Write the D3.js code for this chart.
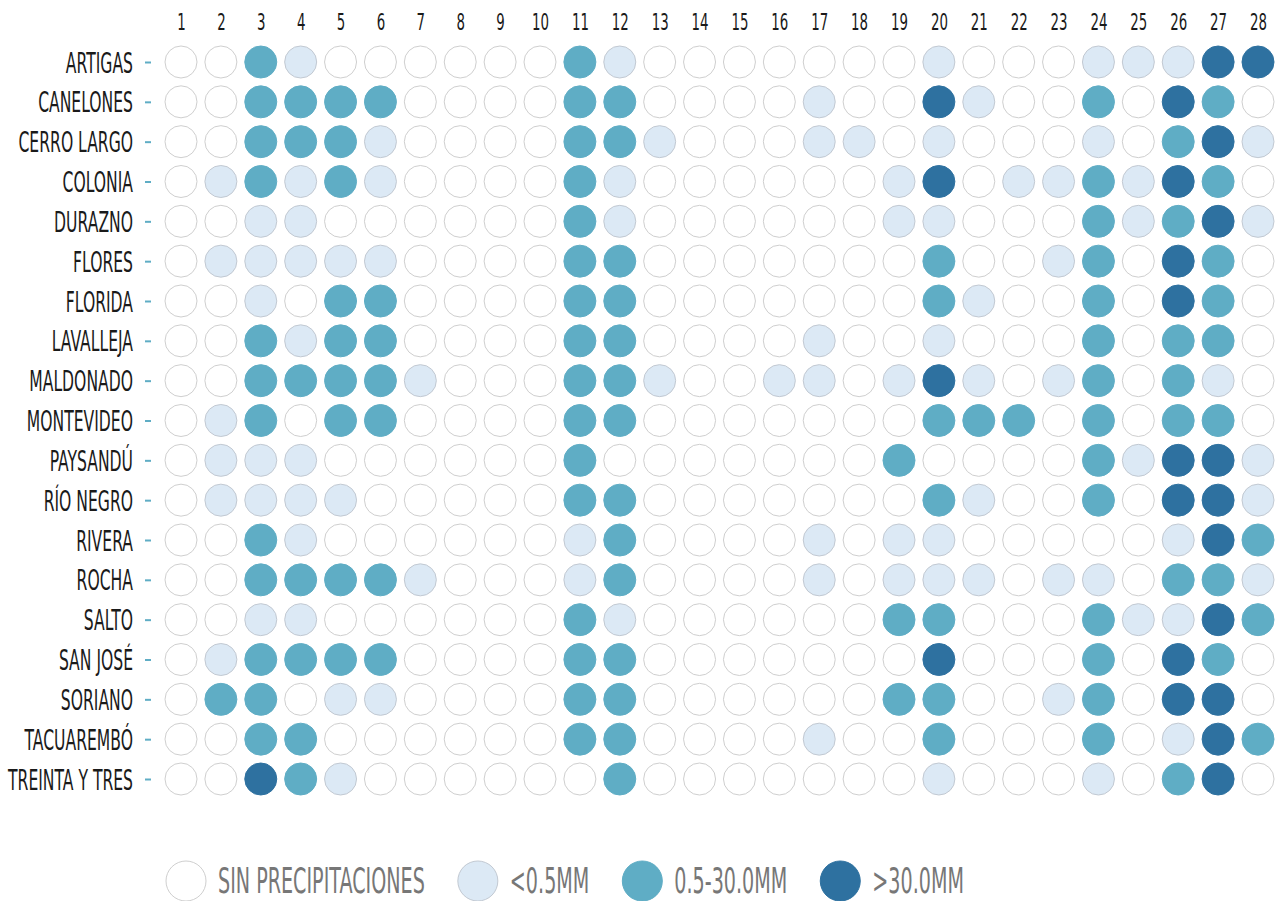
<!DOCTYPE html>
<html>
<head>
  <meta charset="utf-8">
  <script src="https://d3js.org/d3.v7.min.js"></script>
  <style>
    body { margin: 0; background: #fff; }
    text { font-family: "DejaVu Sans", sans-serif; }
  </style>
</head>
<body>
<script>
  // departments (rows) and days (columns)
  var depts = ["ARTIGAS", "CANELONES", "CERRO LARGO", "COLONIA", "DURAZNO", "FLORES",
               "FLORIDA", "LAVALLEJA", "MALDONADO", "MONTEVIDEO", "PAYSANDÚ", "RÍO NEGRO",
               "RIVERA", "ROCHA", "SALTO", "SAN JOSÉ", "SORIANO", "TACUAREMBÓ", "TREINTA Y TRES"];
  var days = d3.range(1, 29);

  // rain class per day: 0 none, 1 <0.5mm, 2 0.5-30mm, 3 >30mm
  var rain = [
    "0021000000210000000100011133",
    "0022220000220000100310020320",
    "0022210000221000110100010231",
    "0121210000210000001301121320",
    "0011000000210000001100021231",
    "0111110000220000000200120320",
    "0010220000220000000210020320",
    "0021220000220000100100020220",
    "0022221000221001101310120210",
    "0120220000220000000222020220",
    "0111000000200000002000021331",
    "0111100000220000000210020331",
    "0021000000120000101100000132",
    "0022221000120000101110110221",
    "0011000000210000002200021132",
    "0122220000220000000300020320",
    "0220110000220000002200120330",
    "0022000000220000100200020132",
    "0032100000020000000100010230"
  ];

  var legendLabels = ["SIN PRECIPITACIONES", "<0.5MM", "0.5-30.0MM", ">30.0MM"];
  var fills = ["#ffffff", "#dce9f5", "#5fadc5", "#2e71a0"];
  var strokes = ["#cfcfcf", "#c2c9d2", "#5fadc5", "#2e71a0"];

  var width = 1285, height = 901;
  var svg = d3.select("body").append("svg")
      .attr("width", width)
      .attr("height", height);

  // squeeze the fallback font to the narrow face of the original
  function squeeze(sample, size, target) {
    var t = svg.append("text")
      .style("font-size", size + "px")
      .text(sample);
    var w = t.node().getComputedTextLength();
    t.remove();
    return target / w;
  }
  var sxDay = squeeze("10", 23, 17);
  var sxDept = squeeze("TREINTA Y TRES", 28, 125);
  var sxLeg = squeeze("SIN PRECIPITACIONES", 35, 207);

  var x = d3.scalePoint().domain(days).range([181, 1258]);
  var y = d3.scalePoint().domain(depts).range([62, 779]);

  var cells = [];
  depts.forEach(function (d, i) {
    days.forEach(function (day, j) {
      cells.push({ dept: d, day: day, v: +rain[i][j] });
    });
  });

  svg.append("g").selectAll("circle")
    .data(cells)
    .enter().append("circle")
      .attr("cx", function (d) { return x(d.day); })
      .attr("cy", function (d) { return y(d.dept); })
      .attr("r", 16)
      .style("fill", function (d) { return fills[d.v]; })
      .style("stroke", function (d) { return strokes[d.v]; })
      .style("stroke-width", 1);

  // day labels
  var dayAxis = svg.append("g")
      .attr("transform", "translate(0,30)")
      .call(d3.axisTop(x).tickSize(0).tickPadding(0));
  dayAxis.select(".domain").remove();
  dayAxis.attr("font-family", null).attr("font-size", null);
  dayAxis.selectAll("text")
      .attr("y", 0).attr("dy", 0)
      .attr("transform", "scale(" + sxDay + ",1)")
      .style("font-size", "23px")
      .style("fill", "#1a1a1a");

  // department labels
  var deptAxis = svg.append("g")
      .attr("transform", "translate(151,0)")
      .call(d3.axisLeft(y).tickSize(6).tickPadding(12));
  deptAxis.select(".domain").remove();
  deptAxis.attr("font-family", null).attr("font-size", null);
  deptAxis.selectAll(".tick line")
      .style("stroke", "#5fadc5")
      .style("stroke-width", 2);
  deptAxis.selectAll("text")
      .attr("x", 0).attr("dy", "0.36em")
      .attr("transform", "translate(-18,0) scale(" + sxDept + ",1)")
      .style("font-size", "28px")
      .style("fill", "#1a1a1a");

  // legend
  var lg = svg.append("g");
  var cx = 186, ly = 881;
  legendLabels.forEach(function (label, i) {
    lg.append("circle")
      .attr("cx", cx).attr("cy", ly).attr("r", 20)
      .style("fill", fills[i])
      .style("stroke", strokes[i])
      .style("stroke-width", 1);
    var t = lg.append("text")
      .attr("transform", "translate(" + (cx + 32) + "," + (ly + 12) + ") scale(" + sxLeg + ",1)")
      .style("font-size", "35px")
      .style("fill", "#777")
      .text(label);
    var w = t.node().getComputedTextLength() * sxLeg;
    cx = cx + 32 + w + 53;
  });
</script>
</body>
</html>
